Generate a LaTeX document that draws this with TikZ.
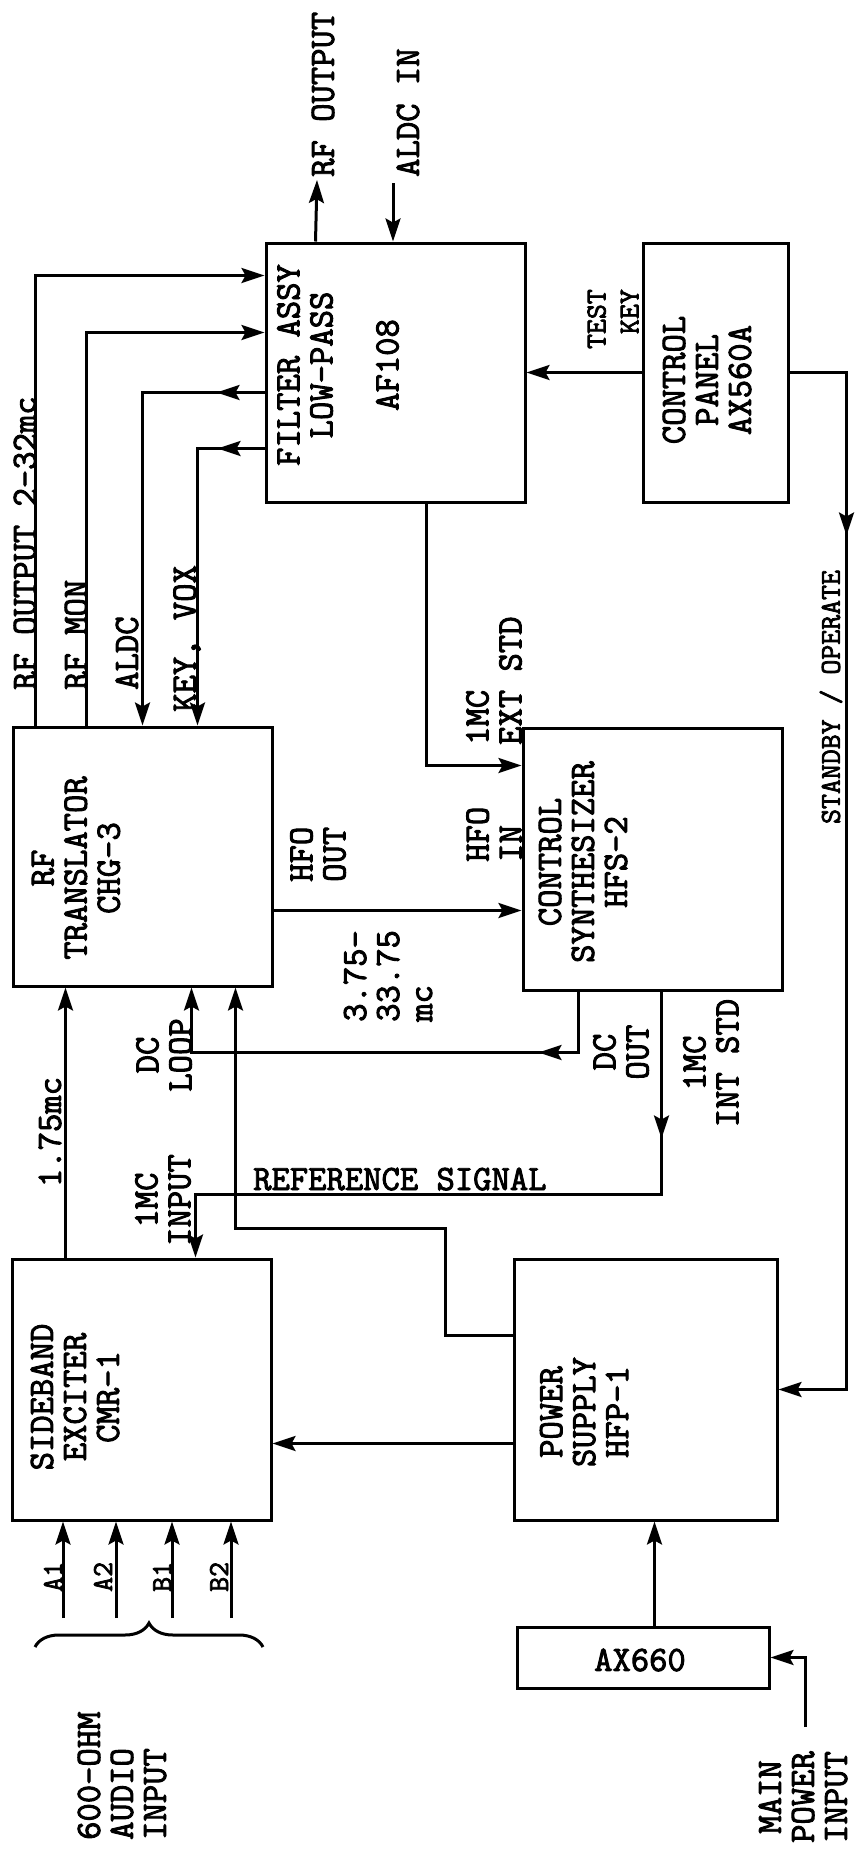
\documentclass[tikz,border=0pt]{standalone}
\usepackage{fontspec}
\usetikzlibrary{arrows.meta, decorations.markings, decorations.pathreplacing}
\newfontfamily\tyfont{Latin Modern Mono}[FakeBold=2.6]
\newcommand\lblsize{\fontsize{35.6}{33}\selectfont}
\newcommand\smlsize{\fontsize{29}{33}\selectfont}

\begin{document}
\begin{tikzpicture}[x=1pt, y=-1pt,
    box/.style={draw, line width=3pt, inner sep=0pt,
                minimum width=259pt, minimum height=259pt},
    boxtxt/.style={rotate=90, align=center, inner sep=0pt, font=\tyfont\lblsize},
    lbl/.style={rotate=90, inner sep=0pt, font=\tyfont\lblsize},
    smlbl/.style={rotate=90, inner sep=0pt, font=\tyfont\smlsize},
    hlbl/.style={inner sep=0pt, font=\tyfont\lblsize},
    arr/.style={line width=3pt, -{Stealth[length=23pt, width=15pt, inset=4pt]}},
    midarr/.style={postaction={decorate}, decoration={markings,
                   mark=at position #1 with {\arrow{Stealth[length=23pt, width=15pt, inset=4pt]}}}}
  ]
  \fill[white] (0,0) rectangle (849,1860);

  \node[box] (filter) at (395.5,372.5) {};
  \node[box, minimum width=145pt] (panel) at (715.5,372.5) {};
  \node[box] (trans) at (142.5,856.5) {};
  \node[box, minimum height=262pt] (synth) at (652.5,859) {};
  \node[box, minimum height=261pt] (exciter) at (141.5,1389.5) {};
  \node[box, minimum width=263pt, minimum height=261pt] (power) at (645.5,1389.5) {};
  \node[box, minimum width=252pt, minimum height=61pt] (ax) at (643,1657.5) {};

  \node[boxtxt] (filtertxt) at (338,365) {FILTER ASSY\\LOW-PASS\\[33pt]AF108};
  \node[boxtxt] (paneltxt) at (707,380) {CONTROL\\PANEL\\AX560A};
  \node[boxtxt] (transtxt) at (76,868) {RF\\TRANSLATOR\\CHG-3};
  \node[boxtxt] (synthtxt) at (583,862) {CONTROL\\SYNTHESIZER\\HFS-2};
  \node[boxtxt] (exctxt) at (75,1397) {SIDEBAND\\EXCITER\\CMR-1};
  \node[boxtxt] (powertxt) at (584,1412) {POWER\\SUPPLY\\HFP-1};
  \node[hlbl] (axtxt) at (640,1660) {AX660};

  % top of filter
  \coordinate (rfout) at (317,180);
  \coordinate (aldcin) at (393,183);
  \draw[arr] ([xshift=51pt]filter.north west) -- (rfout);
  \draw[arr] (aldcin) -- (aldcin |- filter.north);
  \node[lbl, anchor=west] (rfoutlbl) at (323,177) {RF OUTPUT};
  \node[lbl, anchor=west] (aldcinlbl) at (408,177) {ALDC IN};

  % translator <-> filter
  \draw[arr] ([xshift=24pt]trans.north west) |- ([yshift=-34pt]filter.north west);
  \draw[arr] ([xshift=75pt]trans.north west) |- ([yshift=-91pt]filter.north west);
  \draw[arr, midarr=48pt] ([yshift=-151pt]filter.north west) -| ([xshift=131pt]trans.north west);
  \draw[arr, midarr=47pt] ([yshift=-207pt]filter.north west) -| ([xshift=186pt]trans.north west);
  \node[lbl, anchor=west] (rf232lbl) at (25,690) {RF OUTPUT 2-32mc};
  \node[lbl, anchor=west] (rfmonlbl) at (76,690) {RF MON};
  \node[lbl, anchor=west] (aldclbl) at (127,690) {ALDC};
  \node[lbl, anchor=west] (keyvoxlbl) at (187,712) {KEY, VOX};

  \draw[arr] (panel.west) -- (filter.east);
  \node[smlbl, anchor=east, align=right] (testkeylbl) at (613,289) {TEST\\KEY};
  \draw[arr, midarr=220pt] (panel.east) -| ([xshift=68pt]power.east) -- (power.east);
  \node[smlbl] (stbylbl) at (831,697) {STANDBY / OPERATE};

  \draw[arr] ([xshift=162pt]filter.south west) |- ([yshift=-39pt]synth.north west);
  \node[lbl, anchor=west, align=left] (extstdlbl) at (494,745) {1MC\\EXT STD};

  \coordinate (hfo) at ([yshift=-54pt]trans.east);
  \draw[arr] (hfo) -- (hfo -| synth.west);
  \node[lbl, anchor=west, align=left] (hfooutlbl) at (318,882) {HFO\\OUT};
  \node[lbl, anchor=west, align=left] (hfoinlbl) at (494,862) {HFO\\IN};
  \node[lbl, anchor=west, align=left] (freqlbl) at (388,1022) {3.75-\\33.75\\mc};

  % loops under the synthesizer
  \draw[arr, midarr=101pt] ([xshift=57pt]synth.south west) -- ++(0,61) -| ([xshift=180pt]trans.south west);
  \draw[arr, midarr=147pt] ([xshift=140pt]synth.south west) -- ++(0,203) -| ([xshift=185pt]exciter.north west);
  \draw[arr] ([yshift=-78pt]power.north west) -- ++(-67,0) -- ++(0,-107) -| ([xshift=224pt]trans.south west);
  \draw[arr] ([xshift=55pt]exciter.north west) -- ([xshift=54pt]trans.south west);
  \node[lbl, align=center] (dclooplbl) at (164,1055) {DC\\LOOP};
  \node[lbl, align=center] (dcoutlbl) at (621,1052) {DC\\OUT};
  \node[lbl, align=center] (intstdlbl) at (711,1063) {1MC\\INT STD};
  \node[lbl] (lbl175) at (50,1132) {1.75mc};
  \node[lbl, align=center] (inputlbl) at (163,1200) {1MC\\INPUT};
  \node[hlbl, anchor=base west] (reflbl) at (253,1190) {REFERENCE SIGNAL};

  \coordinate (pwr) at ([yshift=-54pt]power.west);
  \draw[arr] (pwr) -- (pwr -| exciter.east);
  \draw[arr] ([xshift=139pt]ax.north west) -- ([xshift=142pt]power.south west);
  \coordinate (mains) at (805,1727);
  \draw[arr] (mains) |- (ax.east);
  \node[lbl, align=center] (mainslbl) at (803,1797) {MAIN\\POWER\\INPUT};

  % audio inputs
  \foreach \nm/\x/\lx in {A1/63/53, A2/116/103, B1/172/162, B2/231/219} {
    \coordinate (in\nm) at (\x,1618);
    \draw[arr] (in\nm) -- (in\nm |- exciter.south);
    \node[smlbl, anchor=west] (lbl\nm) at (\lx,1592) {\nm};
  }
  \draw[line width=3pt, decorate, decoration={brace, amplitude=24pt}] (35,1647) -- (263,1647);
  \node[lbl, anchor=west, align=left] (audiolbl) at (122,1840) {600-OHM\\AUDIO\\INPUT};
\end{tikzpicture}
\end{document}
